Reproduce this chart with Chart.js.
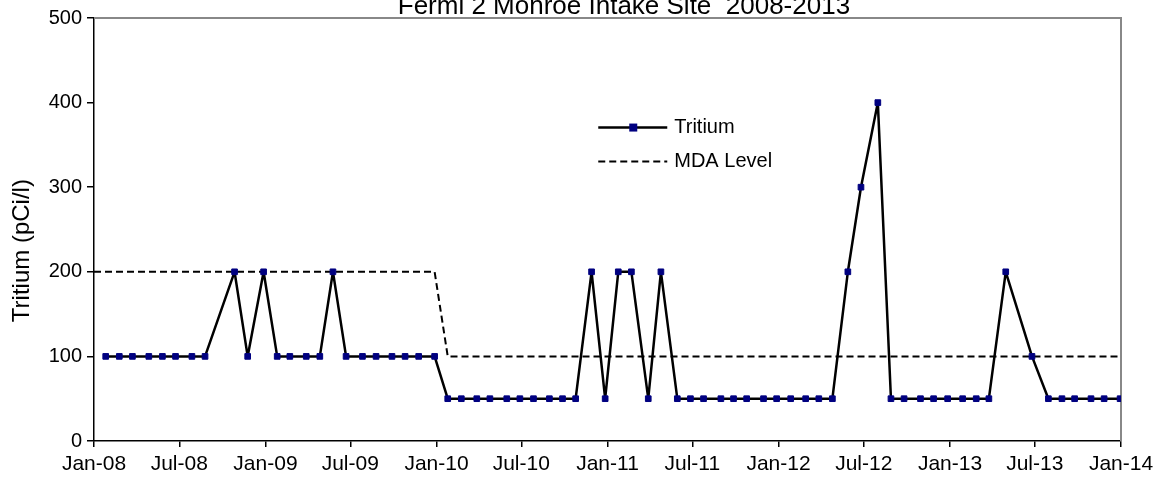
<!DOCTYPE html>
<html>
<head>
<meta charset="utf-8">
<script src="https://cdn.jsdelivr.net/npm/chart.js@4.4.1/dist/chart.umd.min.js"></script>
<style>
  html, body { margin: 0; padding: 0; background: #fff; }
</style>
</head>
<body>
<canvas id="grafico" width="1162" height="481"></canvas>
<script>
// Datas das coletas (aprox.)
const datasColeta = [
  '2008-01-26', '2008-02-24', '2008-03-23', '2008-04-27', '2008-05-26', '2008-06-23',
  '2008-07-28', '2008-08-25', '2008-10-27', '2008-11-24', '2008-12-28',
  '2009-01-26', '2009-02-22', '2009-03-29', '2009-04-27', '2009-05-25', '2009-06-22',
  '2009-07-27', '2009-08-25', '2009-09-28', '2009-10-26', '2009-11-24', '2009-12-28',
  '2010-01-25', '2010-02-23', '2010-03-28', '2010-04-25', '2010-05-31', '2010-06-28',
  '2010-07-27', '2010-08-30', '2010-09-27', '2010-10-25', '2010-11-28', '2010-12-27',
  '2011-01-24', '2011-02-21', '2011-03-29', '2011-04-25', '2011-05-30', '2011-06-27',
  '2011-07-25', '2011-08-31', '2011-09-27', '2011-10-25', '2011-11-30', '2011-12-28',
  '2012-01-27', '2012-02-28', '2012-03-27', '2012-04-25', '2012-05-28', '2012-06-25',
  '2012-07-31', '2012-08-28', '2012-09-25', '2012-10-30', '2012-11-27', '2012-12-27',
  '2013-01-28', '2013-02-26', '2013-03-25', '2013-04-30', '2013-06-25',
  '2013-07-30', '2013-08-28', '2013-09-24', '2013-10-29', '2013-11-26', '2013-12-30'
];

// Trítio (pCi/l)
const tritio = [
  100, 100, 100, 100, 100, 100, 100, 100, 200, 100, 200,
  100, 100, 100, 100, 200, 100, 100, 100, 100, 100, 100, 100,
  50, 50, 50, 50, 50, 50, 50, 50, 50, 50, 200, 50,
  200, 200, 50, 200, 50, 50, 50, 50, 50, 50, 50, 50,
  50, 50, 50, 50, 200, 300, 400, 50, 50, 50, 50, 50,
  50, 50, 50, 200, 100, 50, 50, 50, 50, 50, 50
];

// Nível MDA
const datasMDA = ['2008-01-01', '2009-12-28', '2010-01-25', '2013-12-30'];
const nivelMDA = [200, 200, 100, 100];

// Marcas do eixo X
const datasMarcas = [
  '2008-01-01', '2008-07-01', '2009-01-01', '2009-07-01', '2010-01-01', '2010-07-01',
  '2011-01-01', '2011-07-01', '2012-01-01', '2012-07-01', '2013-01-01', '2013-07-01', '2014-01-01'
];
const rotulosMarcas = [
  'Jan-08', 'Jul-08', 'Jan-09', 'Jul-09', 'Jan-10', 'Jul-10',
  'Jan-11', 'Jul-11', 'Jan-12', 'Jul-12', 'Jan-13', 'Jul-13', 'Jan-14'
];

const titulo = 'Fermi 2 Monroe Intake Site  2008-2013';
const tituloY = 'Tritium (pCi/l)';
const fonte = '"Liberation Sans", Arial, sans-serif';

// dias desde 1 jan 2008
const dia = s => (Date.parse(s) - Date.parse('2008-01-01')) / 86400000;

// Moldura cinza (topo e direita), títulos e legenda desenhados à mão
const extras = {
  id: 'extras',
  beforeDatasetsDraw(chart) {
    const { ctx, chartArea: a } = chart;
    ctx.save();
    ctx.strokeStyle = '#888';
    ctx.lineWidth = 2;
    ctx.beginPath();
    ctx.moveTo(a.left, a.top);
    ctx.lineTo(a.right, a.top);
    ctx.lineTo(a.right, a.bottom);
    ctx.stroke();
    ctx.restore();
  },
  afterDraw(chart) {
    const { ctx, chartArea: a } = chart;
    const w = a.right - a.left, h = a.bottom - a.top;
    ctx.save();
    ctx.fillStyle = '#000';

    // título (cortado no topo como no original)
    ctx.font = '26px ' + fonte;
    ctx.textAlign = 'center';
    ctx.textBaseline = 'alphabetic';
    ctx.fillText(titulo, a.left + 0.516 * w, 14);

    // título do eixo Y
    ctx.save();
    ctx.translate(22, a.top + 0.55 * h);
    ctx.rotate(-Math.PI / 2);
    ctx.font = '24px ' + fonte;
    ctx.textBaseline = 'middle';
    ctx.fillText(tituloY, 0, 0);
    ctx.restore();

    // legenda
    const x0 = a.left + 0.491 * w;
    const y1 = a.top + 0.259 * h;
    const y2 = y1 + 34;
    ctx.font = '20px ' + fonte;
    ctx.textAlign = 'left';
    ctx.textBaseline = 'middle';

    ctx.strokeStyle = '#000';
    ctx.lineWidth = 2.5;
    ctx.beginPath();
    ctx.moveTo(x0, y1);
    ctx.lineTo(x0 + 69, y1);
    ctx.stroke();
    ctx.fillStyle = '#000080';
    ctx.fillRect(x0 + 31, y1 - 4, 8, 8);
    ctx.fillStyle = '#000';
    ctx.fillText('Tritium', x0 + 76, y1);

    ctx.lineWidth = 2;
    ctx.setLineDash([7, 4]);
    ctx.beginPath();
    ctx.moveTo(x0, y2);
    ctx.lineTo(x0 + 69, y2);
    ctx.stroke();
    ctx.setLineDash([]);
    ctx.fillText('MDA Level', x0 + 76, y2);
    ctx.restore();
  }
};

const ctx = document.getElementById('grafico').getContext('2d');

const grafico = new Chart(ctx, {
  type: 'line',
  data: {
    datasets: [
      {
        label: 'Tritium',
        data: datasColeta.map((d, i) => ({ x: dia(d), y: tritio[i] })),
        borderColor: '#000',
        borderWidth: 2.5,
        borderJoinStyle: 'round',
        pointStyle: 'rect',
        pointRadius: 4,
        pointBackgroundColor: '#000080',
        pointBorderColor: '#000080',
        pointBorderWidth: 1,
        tension: 0
      },
      {
        label: 'MDA Level',
        data: datasMDA.map((d, i) => ({ x: dia(d), y: nivelMDA[i] })),
        borderColor: '#000',
        borderWidth: 2,
        borderDash: [7, 4],
        pointRadius: 0,
        tension: 0
      }
    ]
  },
  options: {
    responsive: false,
    animation: false,
    layout: { padding: { top: 18, right: 41, left: 0, bottom: 0 } },
    plugins: {
      legend: { display: false },
      title: { display: false },
      tooltip: { enabled: false }
    },
    scales: {
      x: {
        type: 'linear',
        min: dia('2008-01-01'),
        max: dia('2014-01-01'),
        afterBuildTicks: eixo => {
          eixo.ticks = datasMarcas.map(d => ({ value: dia(d) }));
        },
        afterFit: eixo => { eixo.height = 40; },
        ticks: {
          autoSkip: false,
          maxRotation: 0,
          color: '#000',
          padding: 5,
          font: { family: fonte, size: 21 },
          callback: (v, i) => rotulosMarcas[i]
        },
        grid: { drawOnChartArea: false, tickLength: 6, color: '#000', lineWidth: 1.5 },
        border: { color: '#000', width: 1.5 }
      },
      y: {
        min: 0,
        max: 500,
        afterFit: eixo => { eixo.width = 94; },
        ticks: {
          stepSize: 100,
          color: '#000',
          padding: 5,
          font: { family: fonte, size: 20 }
        },
        grid: { drawOnChartArea: false, tickLength: 7, color: '#000', lineWidth: 1.5 },
        border: { color: '#000', width: 1.5 }
      }
    }
  },
  plugins: [extras]
});
</script>
</body>
</html>
